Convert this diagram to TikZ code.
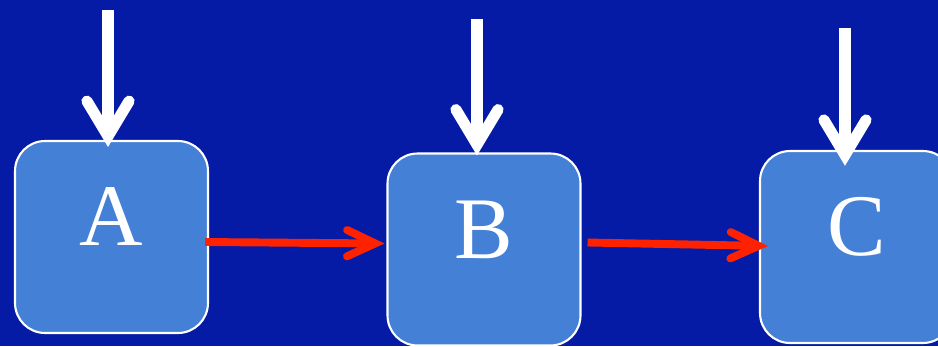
\documentclass[tikz,border=0pt]{standalone}
\usepackage{fontspec}
\setmainfont{Liberation Serif}
\usepackage{xcolor}
\usepackage{tikz}
\usetikzlibrary{arrows.meta,calc}
\definecolor{slide}{RGB}{5,27,166}
\definecolor{boxblue}{RGB}{68,128,214}
\definecolor{flowred}{RGB}{255,34,0}

\begin{document}
\begin{tikzpicture}[x=0.02cm,y=-0.02cm,
  box/.style={draw=white,line width=1.2pt,fill=boxblue,rounded corners=0.6cm,
    minimum width=3.86cm,minimum height=3.84cm,inner sep=0pt,
    text height=1.14cm,text depth=0.8cm,text=white,
    font=\fontsize{50}{60}\selectfont},
  feed/.style={white,line width=6.3pt,
    -{Straight Barb[length=20pt,width=24pt,line cap=round,line join=miter]}},
  flow/.style={flowred,line width=4.5pt,
    -{Straight Barb[length=16pt,width=15pt,line cap=round,line join=miter]}}]
% background slide
\fill[slide] (0,0) rectangle (938,346);
\useasboundingbox (0,0) rectangle (938,346);
\clip (0,0) rectangle (938,346);

% the three stages
\node[box] (A) at (111.5,237) {A};
\node[box] (B) at (484,249.5) {B};
\node[box] (C) at (856.5,247) {C};

% inputs from above
\coordinate (inA) at (108,10);
\coordinate (inB) at (477,19);
\coordinate (inC) at (845,28);
\draw[feed,shorten >=-4pt] (inA) -- (inA |- A.north);
\draw[feed,shorten >=-1.7pt] (inB) -- (inB |- B.north);
\draw[feed,shorten >=-9pt] (inC) -- (inC |- C.north);

% flow between stages
\draw[flow] ($(A.east)+(-4,5)$) -- ($(B.west)+(-2,-6)$);
\draw[flow] ($(B.east)+(6,-7)$) -- ($(C.west)+(9,-1)$);
\end{tikzpicture}
\end{document}
